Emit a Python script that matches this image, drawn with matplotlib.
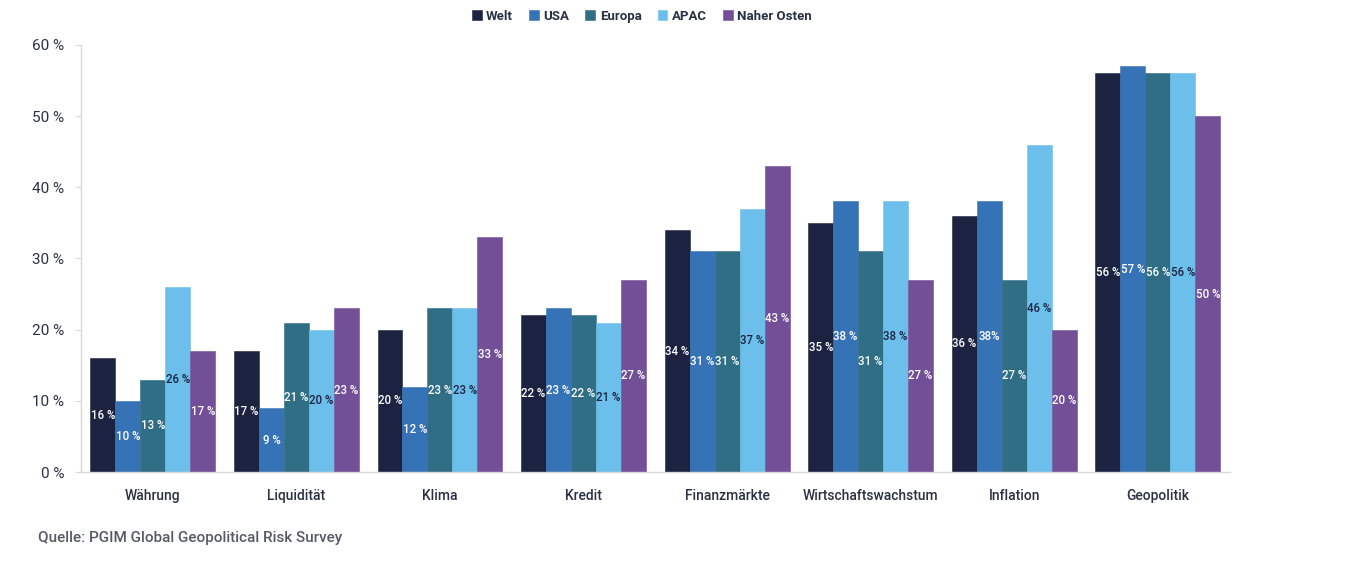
import matplotlib
matplotlib.use("Agg")
import matplotlib.pyplot as plt
import numpy as np

categories = ["Währung", "Liquidität", "Klima", "Kredit", "Finanzmärkte",
              "Wirtschaftswachstum", "Inflation", "Geopolitik"]
series_names = ["Welt", "USA", "Europa", "APAC", "Naher Osten"]
welt = [16, 17, 20, 22, 34, 35, 36, 56]
usa = [10, 9, 12, 23, 31, 38, 38, 57]
europa = [13, 21, 23, 22, 31, 31, 27, 56]
apac = [26, 20, 23, 21, 37, 38, 46, 56]
naher_osten = [17, 23, 33, 27, 43, 27, 20, 50]
yticks = [0, 10, 20, 30, 40, 50, 60]
ytick_labels = ["0 %", "10 %", "20 %", "30 %", "40 %", "50 %", "60 %"]
source = "Quelle: PGIM Global Geopolitical Risk Survey"

colors = ["#1c2341", "#3673b6", "#2f6e84", "#6cbfea", "#724f97"]
label_colors = ["white", "white", "white", "#1c2341", "white"]
text_color = "#2b3145"
fam = ["Roboto", "DejaVu Sans"]
plt.rcParams["font.family"] = fam

series = [welt, usa, europa, apac, naher_osten]

fig = plt.figure(figsize=(13.6, 5.75), dpi=100)
ax = fig.add_axes([0.0596, 0.179, 0.8445, 0.743])

x = np.arange(len(categories))
n = len(series)
group_w = 0.87
bw = group_w / n
handles = []
for i, (vals, c) in enumerate(zip(series, colors)):
    pos = x - group_w / 2 + bw * (i + 0.5)
    b = ax.bar(pos, vals, width=bw, color=c, edgecolor=c, linewidth=0.4,
               label=series_names[i])
    handles.append(b)
    for p, v, cat in zip(pos, vals, categories):
        lab = f"{v} %"
        if series_names[i] == "USA" and cat == "Inflation":
            lab = f"{v}%"
        ax.text(p, v / 2, lab, ha="center", va="center", fontsize=8.3,
                fontweight="medium", color=label_colors[i])

ax.set_xlim(-0.5, 7.5)
ax.set_ylim(0, 60)
ax.set_yticks(yticks)
ax.set_yticklabels(ytick_labels, fontsize=11, color=text_color)
ax.set_xticks(x)
ax.set_xticklabels(categories, fontsize=10, color=text_color, fontweight="medium")
ax.tick_params(axis="x", length=0, pad=12)
ax.tick_params(axis="y", length=4, color="#d8d8d8", pad=8)
for s in ["top", "right"]:
    ax.spines[s].set_visible(False)
for s in ["left", "bottom"]:
    ax.spines[s].set_color("#d8d8d8")
    ax.spines[s].set_linewidth(1)

leg = fig.legend(handles=handles, labels=series_names, loc="center",
                 bbox_to_anchor=(0.472, 0.972), ncol=5, frameon=False,
                 fontsize=9.5, handlelength=0.75, handleheight=0.75,
                 handletextpad=0.35, columnspacing=1.2)
for t in leg.get_texts():
    t.set_color(text_color)
    t.set_fontweight("bold")

fig.text(0.028, 0.064, source, fontsize=11, color="#555a66", va="center",
         ha="left", fontweight="medium")

fig.savefig("out.png", dpi=100)
